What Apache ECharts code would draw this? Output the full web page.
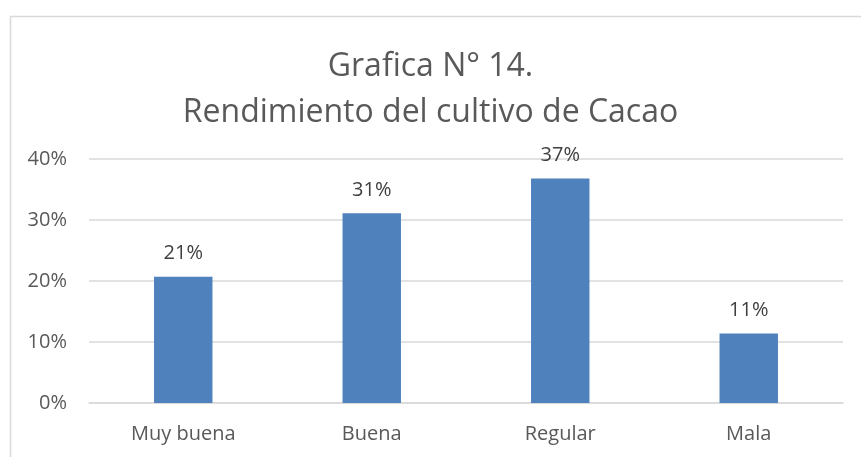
<!doctype html>
<html>
<head>
    <title>Grafica 14</title>
    <script src="https://cdn.jsdelivr.net/npm/echarts@6/dist/echarts.min.js"></script>
</head>
<style>
    html, body { margin: 0; padding: 0; background: #fff; }
    #chart { width: 861px; height: 457px; }
</style>
<body>
<div id="chart"></div>
<script>
  // datos
  var categorias = ['Muy buena', 'Buena', 'Regular', 'Mala'];
  var valores = [20.7, 31.1, 36.8, 11.4];
  var etiquetas = ['21%', '31%', '37%', '11%'];
  var ticksEje = [0, 10, 20, 30, 40];

  var myChart = echarts.init(document.getElementById('chart'));
  var fuente = '"Open Sans", "Liberation Sans", sans-serif';

  var option = {
    animation: false,
    textStyle: { fontFamily: fuente },
    graphic: [{
      type: 'rect',
      left: 8,
      top: 14,
      shape: { width: 900, height: 500 },
      style: { fill: 'none', stroke: '#d9d9d9', lineWidth: 1.5 },
      silent: true
    }],
    title: {
      text: 'Grafica N° 14.\nRendimiento del cultivo de Cacao',
      left: 'center',
      top: 39,
      textStyle: {
        fontFamily: fuente,
        fontSize: 32,
        fontWeight: 'normal',
        color: '#595959',
        lineHeight: 46
      }
    },
    grid: {
      left: 89,
      right: 18,
      top: 159,
      bottom: 54,
      containLabel: false
    },
    xAxis: {
      type: 'category',
      data: categorias,
      axisTick: { show: false },
      axisLine: { lineStyle: { color: '#d9d9d9', width: 1.5 } },
      axisLabel: { color: '#595959', fontSize: 20, margin: 21, fontFamily: fuente }
    },
    yAxis: {
      type: 'value',
      min: ticksEje[0],
      max: ticksEje[ticksEje.length - 1],
      interval: 10,
      axisLine: { show: false },
      axisTick: { show: false },
      splitLine: { lineStyle: { color: '#d9d9d9', width: 1.5 } },
      axisLabel: {
        color: '#595959',
        fontSize: 20,
        margin: 22,
        fontFamily: fuente,
        formatter: function (v) { return v + '%'; }
      }
    },
    series: [{
      type: 'bar',
      data: valores,
      barWidth: '31%',
      itemStyle: { color: '#4f81bd' },
      label: {
        show: true,
        position: 'top',
        distance: 13,
        fontSize: 20,
        color: '#404040',
        fontFamily: fuente,
        formatter: function (p) { return etiquetas[p.dataIndex]; }
      }
    }]
  };

  myChart.setOption(option);
</script>
</body>
</html>
